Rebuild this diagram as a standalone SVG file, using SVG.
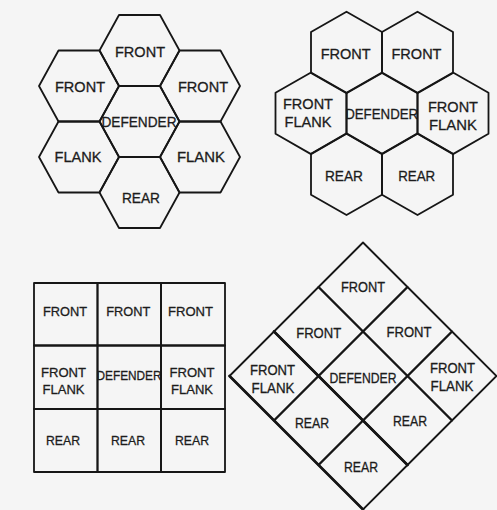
<svg xmlns="http://www.w3.org/2000/svg" xmlns:xlink="http://www.w3.org/1999/xlink" width="497" height="510" viewBox="0 0 497 510">
<style>
.c{fill:none;stroke:#161616;stroke-width:1.8;stroke-linejoin:round}
.k{fill:none;stroke:#161616;stroke-width:2.6;stroke-linecap:round}
.t{font-family:"Liberation Sans",Arial,sans-serif;text-anchor:middle;fill:#1c1c1c;stroke:#1c1c1c;stroke-width:0.3}
.h1{font-size:14.5px}
.h2{font-size:15px}
.sq{font-size:13.5px}
.dm{font-size:14.5px}
</style>
<defs>
<path id="hexF" d="M-40,0 L-20.5,-35.5 L20.5,-35.5 L40,0 L20.5,35.5 L-20.5,35.5 Z"/>
<path id="hexP" d="M0,-40.8 L35.5,-20.5 L35.5,20.5 L0,40.8 L-35.5,20.5 L-35.5,-20.5 Z"/>
<path id="dia" d="M0,-44.5 L44.5,0 L0,44.5 L-44.5,0 Z"/>
</defs>
<rect width="497" height="510" fill="#f5f5f5"/>

<!-- Hex layout 1 -->
<g id="hex1-front-top"><use xlink:href="#hexF" class="c" transform="translate(139.5,50.5)"/><text class="t h1" x="140" y="56.5" textLength="50" lengthAdjust="spacingAndGlyphs">FRONT</text></g>
<g id="hex1-front-left"><use xlink:href="#hexF" class="c" transform="translate(79,86)"/><text class="t h1" x="80" y="91.5" textLength="50" lengthAdjust="spacingAndGlyphs">FRONT</text></g>
<g id="hex1-front-right"><use xlink:href="#hexF" class="c" transform="translate(200,86)"/><text class="t h1" x="203" y="91.5" textLength="50" lengthAdjust="spacingAndGlyphs">FRONT</text></g>
<g id="hex1-defender"><use xlink:href="#hexF" class="c" transform="translate(139.5,121.5)"/><text class="t h1" x="139" y="126.5" textLength="75" lengthAdjust="spacingAndGlyphs">DEFENDER</text></g>
<g id="hex1-flank-left"><use xlink:href="#hexF" class="c" transform="translate(79,157)"/><text class="t h1" x="78" y="161.5" textLength="47" lengthAdjust="spacingAndGlyphs">FLANK</text></g>
<g id="hex1-flank-right"><use xlink:href="#hexF" class="c" transform="translate(200,157)"/><text class="t h1" x="201" y="161.5" textLength="48" lengthAdjust="spacingAndGlyphs">FLANK</text></g>
<g id="hex1-rear"><use xlink:href="#hexF" class="c" transform="translate(139.5,192.5)"/><text class="t h1" x="141" y="203" textLength="38" lengthAdjust="spacingAndGlyphs">REAR</text></g>

<!-- Hex layout 2 -->
<g id="hex2-front-left"><use xlink:href="#hexP" class="c" transform="translate(346.5,52.5)"/><text class="t h2" x="345.7" y="59" textLength="50" lengthAdjust="spacingAndGlyphs">FRONT</text></g>
<g id="hex2-front-right"><use xlink:href="#hexP" class="c" transform="translate(417.5,52.5)"/><text class="t h2" x="416.5" y="59" textLength="50" lengthAdjust="spacingAndGlyphs">FRONT</text></g>
<g id="hex2-frontflank-left"><use xlink:href="#hexP" class="c" transform="translate(311,113.3)"/><text class="t h2" x="308" y="108.5" textLength="50" lengthAdjust="spacingAndGlyphs">FRONT</text><text class="t h2" x="308" y="127" textLength="47" lengthAdjust="spacingAndGlyphs">FLANK</text></g>
<g id="hex2-defender"><use xlink:href="#hexP" class="c" transform="translate(382,113.3)"/><text class="t h2" x="381.7" y="118.5" textLength="73" lengthAdjust="spacingAndGlyphs">DEFENDER</text></g>
<g id="hex2-frontflank-right"><use xlink:href="#hexP" class="c" transform="translate(453,113.3)"/><text class="t h2" x="453" y="112" textLength="50" lengthAdjust="spacingAndGlyphs">FRONT</text><text class="t h2" x="453" y="130.3" textLength="48" lengthAdjust="spacingAndGlyphs">FLANK</text></g>
<g id="hex2-rear-left"><use xlink:href="#hexP" class="c" transform="translate(346.5,174.2)"/><text class="t h2" x="344" y="180.5" textLength="38" lengthAdjust="spacingAndGlyphs">REAR</text></g>
<g id="hex2-rear-right"><use xlink:href="#hexP" class="c" transform="translate(417.5,174.2)"/><text class="t h2" x="416.7" y="180.5" textLength="37" lengthAdjust="spacingAndGlyphs">REAR</text></g>

<!-- Square grid -->
<g id="sq-front-1"><rect class="c" x="34" y="283" width="63.5" height="62.5"/><text class="t sq" x="65" y="316" textLength="44" lengthAdjust="spacingAndGlyphs">FRONT</text></g>
<g id="sq-front-2"><rect class="c" x="97.5" y="283" width="63.5" height="62.5"/><text class="t sq" x="128.3" y="316" textLength="44" lengthAdjust="spacingAndGlyphs">FRONT</text></g>
<g id="sq-front-3"><rect class="c" x="161" y="283" width="64" height="62.5"/><text class="t sq" x="190.5" y="316" textLength="45" lengthAdjust="spacingAndGlyphs">FRONT</text></g>
<g id="sq-frontflank-left"><rect class="c" x="34" y="345.5" width="63.5" height="63.5"/><text class="t sq" x="63.5" y="376.5" textLength="45" lengthAdjust="spacingAndGlyphs">FRONT</text><text class="t sq" x="63.5" y="393.5" textLength="42" lengthAdjust="spacingAndGlyphs">FLANK</text></g>
<g id="sq-defender"><rect class="c" x="97.5" y="345.5" width="63.5" height="63.5"/><text class="t sq" x="129" y="380" textLength="65" lengthAdjust="spacingAndGlyphs">DEFENDER</text></g>
<g id="sq-frontflank-right"><rect class="c" x="161" y="345.5" width="64" height="63.5"/><text class="t sq" x="192" y="376.5" textLength="45" lengthAdjust="spacingAndGlyphs">FRONT</text><text class="t sq" x="192" y="393.5" textLength="42" lengthAdjust="spacingAndGlyphs">FLANK</text></g>
<g id="sq-rear-1"><rect class="c" x="34" y="409" width="63.5" height="63"/><text class="t sq" x="63" y="445" textLength="34" lengthAdjust="spacingAndGlyphs">REAR</text></g>
<g id="sq-rear-2"><rect class="c" x="97.5" y="409" width="63.5" height="63"/><text class="t sq" x="128" y="445" textLength="34" lengthAdjust="spacingAndGlyphs">REAR</text></g>
<g id="sq-rear-3"><rect class="c" x="161" y="409" width="64" height="63"/><text class="t sq" x="192" y="445" textLength="34" lengthAdjust="spacingAndGlyphs">REAR</text></g>

<!-- Diamond grid -->
<g id="dm-front-top"><use xlink:href="#dia" class="c" transform="translate(363,287)"/><text class="t dm" x="363" y="291.7" textLength="44" lengthAdjust="spacingAndGlyphs">FRONT</text></g>
<g id="dm-front-left"><use xlink:href="#dia" class="c" transform="translate(318.5,331.5)"/><text class="t dm" x="318.7" y="338" textLength="45" lengthAdjust="spacingAndGlyphs">FRONT</text></g>
<g id="dm-front-right"><use xlink:href="#dia" class="c" transform="translate(407.5,331.5)"/><text class="t dm" x="409" y="337" textLength="45" lengthAdjust="spacingAndGlyphs">FRONT</text></g>
<g id="dm-frontflank-left"><use xlink:href="#dia" class="c" transform="translate(274,376)"/><text class="t dm" x="272.5" y="375" textLength="45" lengthAdjust="spacingAndGlyphs">FRONT</text><text class="t dm" x="273" y="393" textLength="43" lengthAdjust="spacingAndGlyphs">FLANK</text></g>
<g id="dm-defender"><use xlink:href="#dia" class="c" transform="translate(363,376)"/><text class="t dm" x="363" y="383.3" textLength="67" lengthAdjust="spacingAndGlyphs">DEFENDER</text></g>
<g id="dm-frontflank-right"><use xlink:href="#dia" class="c" transform="translate(452,376)"/><text class="t dm" x="452.5" y="372.7" textLength="45" lengthAdjust="spacingAndGlyphs">FRONT</text><text class="t dm" x="452" y="390.7" textLength="43" lengthAdjust="spacingAndGlyphs">FLANK</text></g>
<g id="dm-rear-left"><use xlink:href="#dia" class="c" transform="translate(318.5,420.5)"/><text class="t dm" x="312" y="428" textLength="34" lengthAdjust="spacingAndGlyphs">REAR</text></g>
<g id="dm-rear-right"><use xlink:href="#dia" class="c" transform="translate(407.5,420.5)"/><text class="t dm" x="410" y="426" textLength="34" lengthAdjust="spacingAndGlyphs">REAR</text></g>
<g id="dm-rear-bottom"><use xlink:href="#dia" class="c" transform="translate(363,465)"/><text class="t dm" x="361" y="471.7" textLength="34" lengthAdjust="spacingAndGlyphs">REAR</text></g>
<g id="dm-heavy-lines">
<path class="k" d="M274,331.5 L407.5,465 M229.5,376 L363,509.5"/>
</g>
</svg>
